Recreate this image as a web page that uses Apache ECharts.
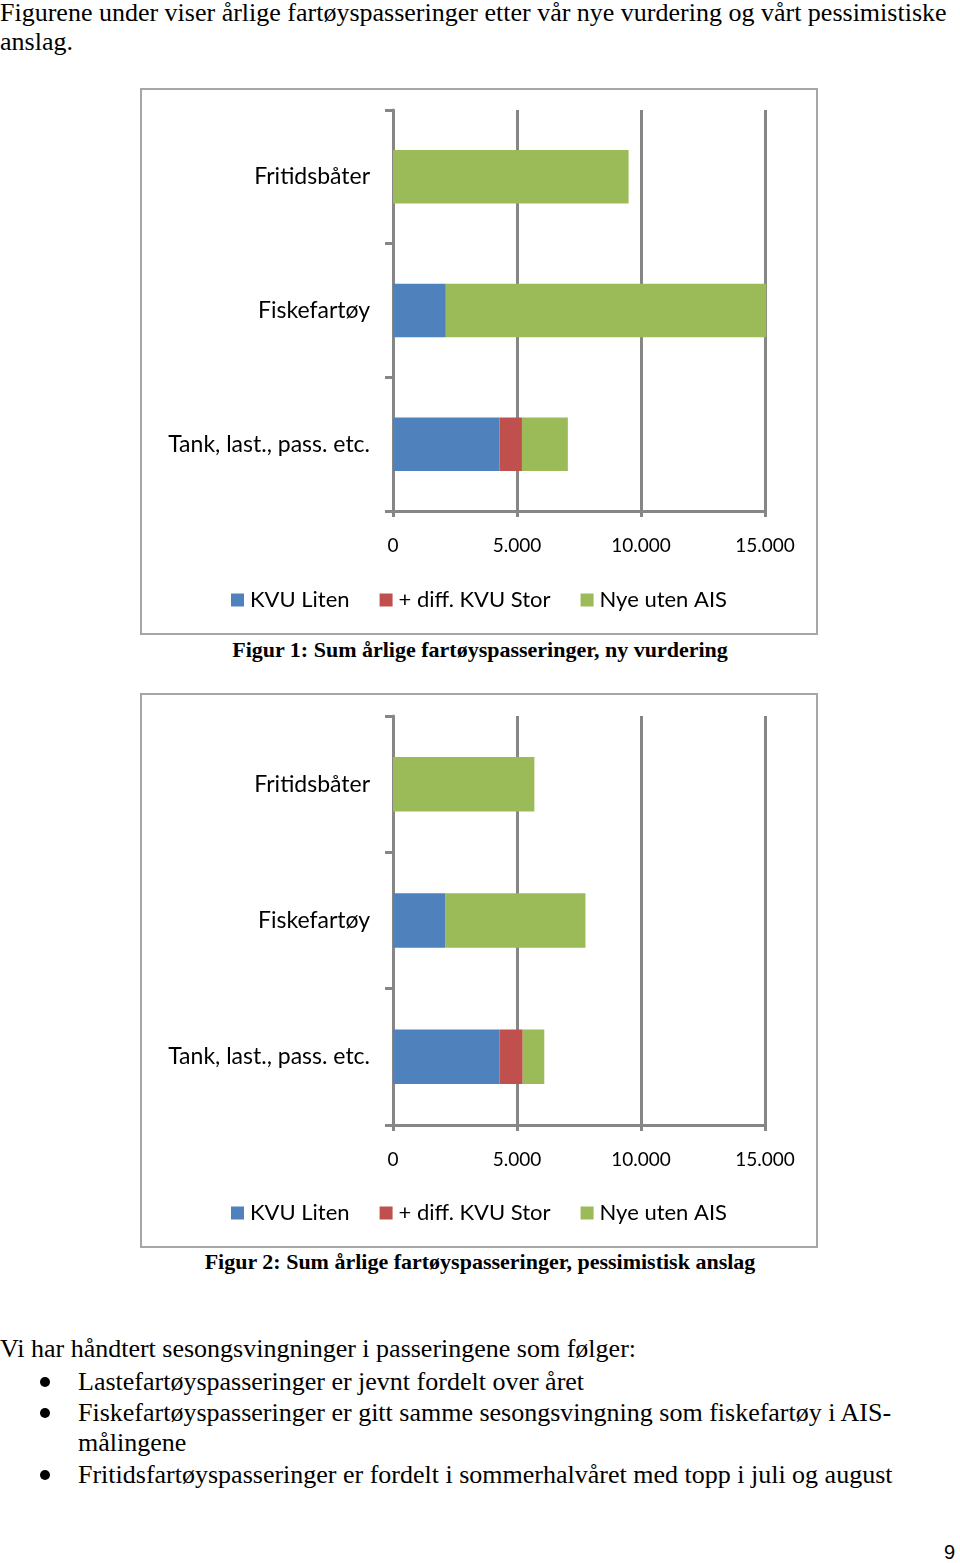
<!DOCTYPE html>
<html>
<head>
<meta charset="utf-8">
<script src="https://cdn.jsdelivr.net/npm/echarts@6/dist/echarts.min.js"></script>
<style>
  body { margin: 0; background: #fff; width: 960px; height: 1563px; position: relative; overflow: hidden; }
  .t { position: absolute; font-family: 'Liberation Serif', 'DejaVu Serif', serif; font-size: 26px; line-height: 26px; color: #000; white-space: nowrap; }
  .cap { font-weight: bold; font-size: 22px; line-height: 22px; left: 0; width: 960px; text-align: center; }
  .box { position: absolute; border: 2px solid #a6a6a6; box-sizing: border-box; }
  .bullet { position: absolute; left: 40px; width: 10px; height: 10px; border-radius: 50%; background: #000; }
</style>
</head>
<body>
<div class="t" style="left:0; top:0px;">Figurene under viser årlige fartøyspasseringer etter vår nye vurdering og vårt pessimistiske</div>
<div class="t" style="left:0; top:29px;">anslag.</div>

<div class="box" id="chart1" style="left:140px; top:88px; width:678px; height:547px;"></div>
<div class="t cap" style="top:639px;">Figur 1: Sum årlige fartøyspasseringer, ny vurdering</div>

<div class="box" id="chart2" style="left:140px; top:693px; width:678px; height:555px;"></div>
<div class="t cap" style="top:1251px;">Figur 2: Sum årlige fartøyspasseringer, pessimistisk anslag</div>

<div class="t" style="left:0; top:1336px;">Vi har håndtert sesongsvingninger i passeringene som følger:</div>
<div class="bullet" style="top:1377px;"></div>
<div class="t" style="left:78px; top:1369px;">Lastefartøyspasseringer er jevnt fordelt over året</div>
<div class="bullet" style="top:1408px;"></div>
<div class="t" style="left:78px; top:1400px;">Fiskefartøyspasseringer er gitt samme sesongsvingning som fiskefartøy i AIS-</div>
<div class="t" style="left:78px; top:1430px;">målingene</div>
<div class="bullet" style="top:1470px;"></div>
<div class="t" style="left:78px; top:1462px;">Fritidsfartøyspasseringer er fordelt i sommerhalvåret med topp i juli og august</div>
<div class="t" style="left:944px; top:1542px; font-family:'Liberation Sans', sans-serif; font-size:20px; line-height:20px;">9</div>

<script>
// categories (bottom to top, as in the Excel chart)
const categories = ['Tank, last., pass. etc.', 'Fiskefartøy', 'Fritidsbåter']
const seriesNames = ['KVU Liten', '+ diff. KVU Stor', 'Nye uten AIS']
const colors = ['#4F81BD', '#C0504D', '#9BBB59']

// Figur 1: ny vurdering
const kvuLiten1 = [4300, 2130, 0]
const diffStor1 = [900, 0, 0]
const nyeUtenAis1 = [1850, 12920, 9500]

// Figur 2: pessimistisk anslag
const kvuLiten2 = [4290, 2100, 0]
const diffStor2 = [940, 0, 0]
const nyeUtenAis2 = [870, 5660, 5700]

const xTicks = [0, 5000, 10000, 15000]

const font = 'Lato, "Open Sans", sans-serif'
const gray = '#868686'

const fmt = (v) => String(v).replace(/\B(?=(\d{3})+(?!\d))/g, '.')

const buildOption = (data, g, legendTop) => {
  return {
    animation: false,
    textStyle: { fontFamily: font },
    legend: {
      top: legendTop,
      left: 89,
      padding: 0,
      icon: 'rect',
      itemWidth: 13,
      itemHeight: 13,
      itemGap: 30,
      textStyle: { fontSize: 22, color: '#000', fontFamily: font, padding: [0, 0, 0, 1] },
      data: seriesNames
    },
    grid: g,
    xAxis: {
      type: 'value',
      min: xTicks[0],
      max: xTicks[xTicks.length - 1],
      interval: 5000,
      axisLine: { show: true, lineStyle: { color: gray, width: 3 } },
      axisTick: { show: true, length: 6, lineStyle: { color: gray, width: 3 } },
      axisLabel: { formatter: fmt, fontSize: 19, color: '#000', margin: 25, fontFamily: font },
      splitLine: { show: true, lineStyle: { color: gray, width: 3 } }
    },
    yAxis: {
      type: 'category',
      data: categories,
      axisLine: { show: true, lineStyle: { color: gray, width: 3 } },
      axisTick: { show: true, length: 8, lineStyle: { color: gray, width: 3 } },
      axisLabel: { fontSize: 23, color: '#000', margin: 23, fontFamily: font }
    },
    series: data.map((d, i) => ({
      name: seriesNames[i],
      type: 'bar',
      stack: 'Total',
      clip: false,
      barCategoryGap: '60%',
      itemStyle: { color: colors[i] },
      data: d
    }))
  }
}

const c1 = echarts.init(document.getElementById('chart1'))
c1.setOption(buildOption([kvuLiten1, diffStor1, nyeUtenAis1],
  { left: 251, top: 20, width: 372, height: 401 }, 499))

const c2 = echarts.init(document.getElementById('chart2'))
c2.setOption(buildOption([kvuLiten2, diffStor2, nyeUtenAis2],
  { left: 251, top: 21, width: 372, height: 409 }, 507))
</script>
</body>
</html>
